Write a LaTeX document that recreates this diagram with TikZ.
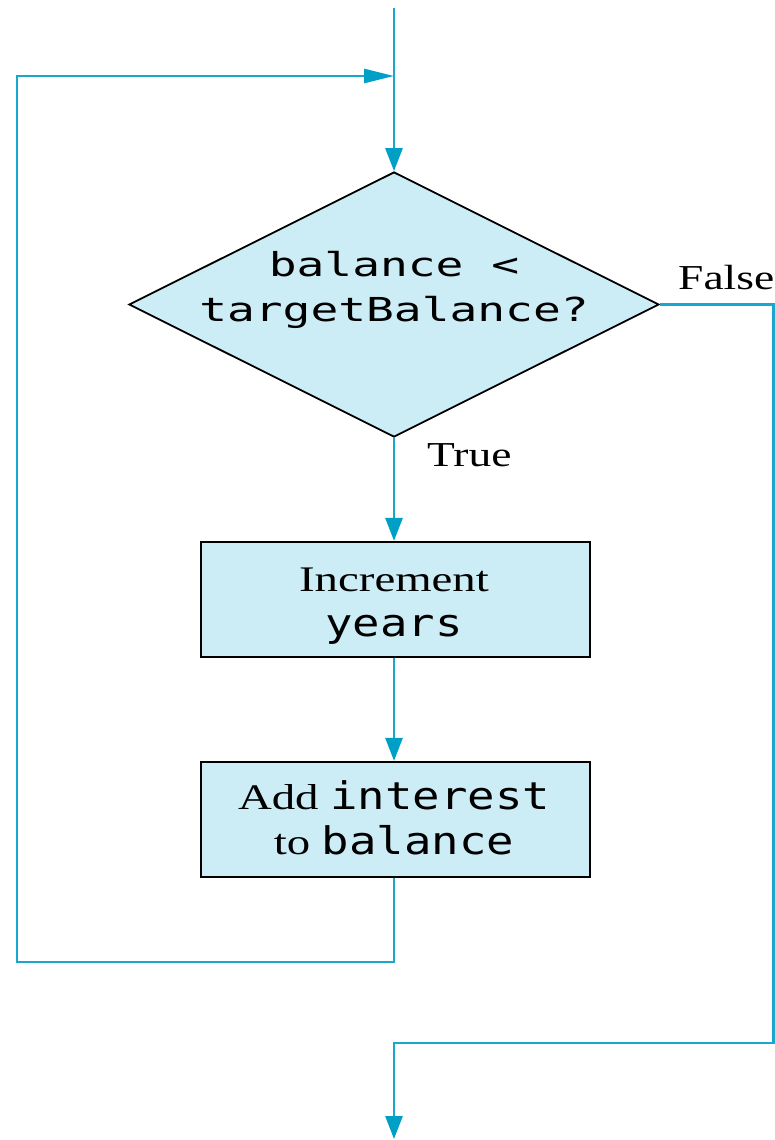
\documentclass[tikz,border=0pt]{standalone}
\usepackage{fontspec}
\setmainfont{Liberation Serif}
\newfontfamily\serifx[FakeStretch=1.3]{Liberation Serif}
\newfontfamily\monod[FakeStretch=1.4]{DejaVu Sans Mono}
\newfontfamily\monob[FakeStretch=1.2]{DejaVu Sans Mono}
\usetikzlibrary{shapes.geometric,arrows.meta}
\definecolor{flowc}{HTML}{1AA7CE}
\definecolor{tipc}{HTML}{009FC6}
\definecolor{boxfill}{HTML}{CDEDF6}
\newcommand\codeb[1]{{\monob\fontsize{38}{45}\selectfont #1}}
\begin{document}
\begin{tikzpicture}[x=1pt,y=-1pt,
  flow/.style={draw=flowc,line width=2.8pt},
  arrv/.style={-{Triangle[width=17pt,length=23pt,color=tipc]}},
  arrh/.style={-{Triangle[width=14pt,length=30pt,color=tipc]}},
  decision/.style={diamond,draw=black,line width=1.8pt,fill=boxfill,minimum width=530pt,minimum height=265pt,inner sep=0pt},
  stepbox/.style={rectangle,draw=black,line width=2.2pt,fill=boxfill,minimum width=389pt,minimum height=115pt,inner sep=0pt},
  boxtext/.style={align=center,font=\serifx\fontsize{36}{45}\selectfont,inner sep=0pt},
  dtext/.style={align=center,font=\monod\fontsize{33}{45}\selectfont,inner sep=0pt},
  lbl/.style={font=\serifx\fontsize{35}{42}\selectfont,inner sep=0pt}
]
\useasboundingbox (0,0) rectangle (775,1140);
\fill[white] (0,0) rectangle (775,1140);

\node[decision] (dec) at (394,304.5) {};
\node[dtext] (q) at (394,289.5) {balance <\\targetBalance?};
\node[stepbox] (b1) at (395.5,599.5) {};
\node[boxtext] (t1) at (394,606.5) {Increment\\\codeb{years}};
\node[stepbox] (b2) at (395.5,819.5) {};
\node[boxtext] (t2) at (394,818) {Add \codeb{interest}\\to \codeb{balance}};

\node[lbl,anchor=base west] (tl) at (427,466) {True};
\node[lbl,anchor=base west] (fl) at (678,289) {False};

\coordinate (start) at (394,8);
\coordinate (join) at (394,76);
\coordinate (lb) at (17,962);
\coordinate (lt) at (17,76);
\coordinate (fr1) at (773.5,304.5);
\coordinate (fr2) at (773.5,1043);
\coordinate (end) at (394,1139);

\draw[flow,arrv] (start) -- (dec.north);
\draw[flow,arrv] (dec.south) -- (b1.north -| dec.south);
\draw[flow,arrv] (b1.south -| dec.south) -- (b2.north -| dec.south);
\draw[flow,arrh] (b2.south -| dec.south) |- (lb) -- (lt) -- (join);
\draw[flow,arrv] (dec.east) -- (fr1) -- (fr2) -| (end);
\end{tikzpicture}
\end{document}
